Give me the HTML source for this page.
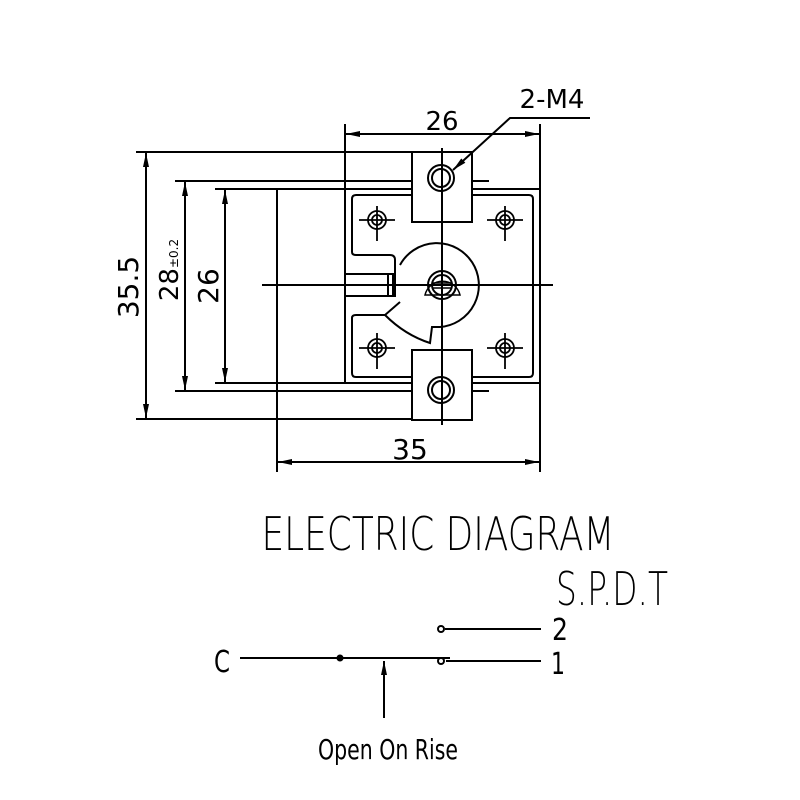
<!DOCTYPE html>
<html><head><style>body{margin:0;background:#fff}svg{display:block}</style></head><body>
<svg width="800" height="800" viewBox="0 0 800 800" xmlns="http://www.w3.org/2000/svg">
<defs>
<marker id="a" viewBox="0 0 14 6" refX="14" refY="3" markerWidth="14" markerHeight="6" orient="auto-start-reverse" markerUnits="userSpaceOnUse"><path d="M0,0 L14,3 L0,6 z" fill="#000"/></marker>
</defs>
<g stroke="#000" stroke-width="2" fill="none">
<line x1="136" y1="152" x2="412" y2="152"/>
<line x1="175" y1="181" x2="489" y2="181"/>
<line x1="215" y1="189" x2="540" y2="189"/>
<line x1="215" y1="383" x2="540" y2="383"/>
<line x1="175" y1="391" x2="489" y2="391"/>
<line x1="136" y1="419" x2="412" y2="419"/>
<line x1="146" y1="153" x2="146" y2="418" marker-start="url(#a)" marker-end="url(#a)"/>
<line x1="185" y1="182" x2="185" y2="390" marker-start="url(#a)" marker-end="url(#a)"/>
<line x1="225" y1="190" x2="225" y2="382" marker-start="url(#a)" marker-end="url(#a)"/>
<line x1="277" y1="189" x2="277" y2="472"/>
<line x1="540" y1="124" x2="540" y2="472"/>
<line x1="345" y1="124" x2="345" y2="383"/>
<line x1="346" y1="134" x2="539" y2="134" marker-start="url(#a)" marker-end="url(#a)"/>
<line x1="278" y1="462" x2="539" y2="462" marker-start="url(#a)" marker-end="url(#a)"/>
<path d="M356,195 H529 Q533,195 533,199 V373 Q533,377 529,377 H356 Q352,377 352,373 V318 Q352,315 356,315 H385 M352,199 V252 Q352,255 356,255 H390 Q395,255 395,260 V297" />
<path d="M356,195 Q352,195 352,199"/>
<rect x="345" y="274" width="48" height="22"/>
<line x1="388" y1="274" x2="388" y2="296"/>
<rect x="412" y="152" width="60" height="70" fill="#fff"/>
<rect x="412" y="350" width="60" height="70" fill="#fff"/>
<path d="M400,265 A42,42 0 1 1 440,327 L432,327 L430,343 Q405,335 385,315 L400,302"/>
<circle cx="442" cy="285" r="14"/>
<circle cx="442" cy="285" r="10"/>
<path d="M425,295 A18,18 0 0 1 460,295 Z" stroke-width="1.5"/>
<line x1="432" y1="283" x2="452" y2="283" stroke-width="1.5"/>
<line x1="432" y1="288" x2="452" y2="288" stroke-width="1.5"/>
<circle cx="441" cy="178" r="13"/><circle cx="441" cy="178" r="9"/>
<circle cx="441" cy="390" r="13"/><circle cx="441" cy="390" r="9"/>
<g stroke-width="1.8">
<circle cx="377" cy="220" r="9"/><circle cx="377" cy="220" r="5"/><line x1="359" y1="220" x2="395" y2="220"/><line x1="377" y1="206" x2="377" y2="241"/>
<circle cx="505" cy="220" r="9"/><circle cx="505" cy="220" r="5"/><line x1="487" y1="220" x2="523" y2="220"/><line x1="505" y1="206" x2="505" y2="241"/>
<circle cx="377" cy="348" r="9"/><circle cx="377" cy="348" r="5"/><line x1="359" y1="348" x2="395" y2="348"/><line x1="377" y1="333" x2="377" y2="369"/>
<circle cx="505" cy="348" r="9"/><circle cx="505" cy="348" r="5"/><line x1="487" y1="348" x2="523" y2="348"/><line x1="505" y1="333" x2="505" y2="369"/>
</g>
<line x1="442" y1="148" x2="442" y2="425"/>
<line x1="262" y1="285" x2="553" y2="285"/>
<polyline points="590,118 510,118 453,170" marker-end="url(#a)"/>
<line x1="240" y1="658" x2="450" y2="658"/>
<line x1="446" y1="661" x2="541" y2="661"/>
<line x1="445" y1="629" x2="541" y2="629"/>
<line x1="384" y1="718" x2="384" y2="661" marker-end="url(#a)"/>
</g>
<circle cx="340" cy="658" r="3.5" fill="#000"/>
<circle cx="441" cy="661" r="3" fill="#fff" stroke="#000" stroke-width="2"/>
<circle cx="441" cy="629" r="3" fill="#fff" stroke="#000" stroke-width="2"/>
<g font-family="DejaVu Sans, sans-serif" fill="#000">
<text x="442" y="130" font-size="26" text-anchor="middle">26</text>
<text x="410" y="459" font-size="28" text-anchor="middle">35</text>
<text x="552" y="108" font-size="26" text-anchor="middle">2-M4</text>
<text transform="translate(138,287) rotate(-90)" font-size="28" text-anchor="middle">35.5</text>
<text transform="translate(178,270) rotate(-90)" font-size="26" text-anchor="middle">28<tspan font-size="12">±0.2</tspan></text>
<text transform="translate(218,286) rotate(-90)" font-size="28" text-anchor="middle">26</text>
<text x="438" y="550" font-size="46" font-weight="300" text-anchor="middle" textLength="353" lengthAdjust="spacingAndGlyphs">ELECTRIC DIAGRAM</text>
<text x="612" y="605" font-size="46" font-weight="300" text-anchor="middle" textLength="112" lengthAdjust="spacingAndGlyphs">S.P.D.T</text>
<text x="222" y="672" font-size="30" text-anchor="middle" textLength="16" lengthAdjust="spacingAndGlyphs">C</text>
<text x="560" y="640" font-size="30" text-anchor="middle" textLength="16" lengthAdjust="spacingAndGlyphs">2</text>
<text x="558" y="674" font-size="30" text-anchor="middle" textLength="14" lengthAdjust="spacingAndGlyphs">1</text>
<text x="388" y="759" font-size="28" text-anchor="middle" textLength="140" lengthAdjust="spacingAndGlyphs">Open On Rise</text>
</g>
</svg>
</body></html>
